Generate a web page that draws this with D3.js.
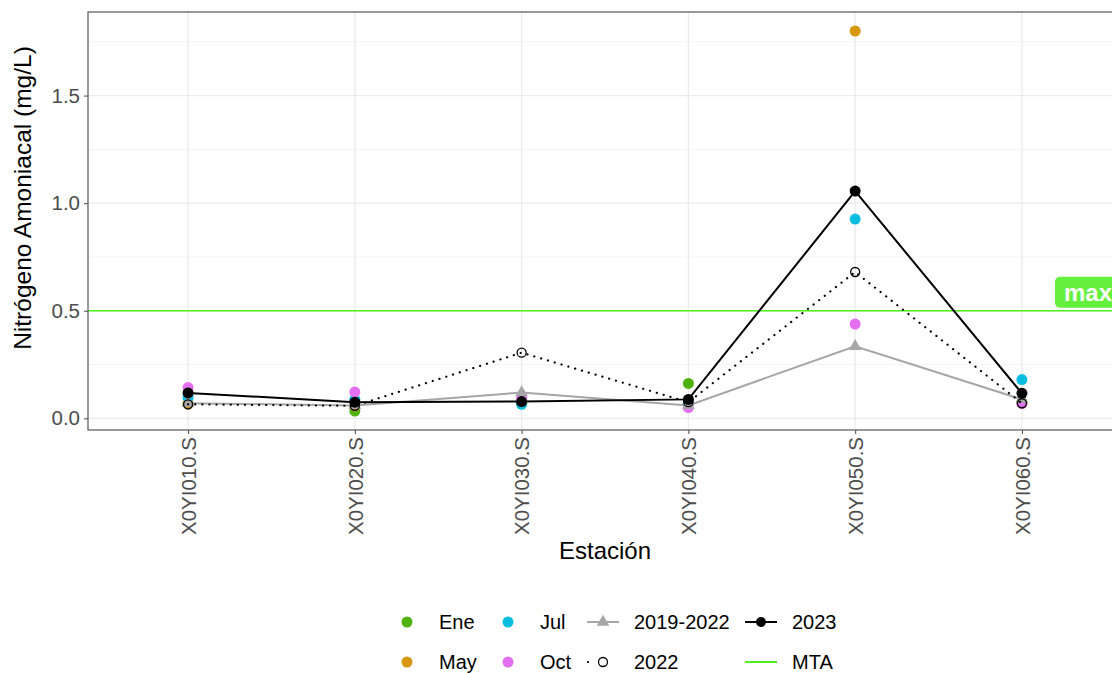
<!DOCTYPE html>
<html>
<head>
<meta charset="utf-8">
<script src="https://cdn.jsdelivr.net/npm/d3@7"></script>
<style>
  body { margin: 0; background: #fff; }
  svg { display: block; font-family: "Liberation Sans", Arial, sans-serif; }
</style>
</head>
<body>
<svg id="chart" width="1112" height="673"></svg>
<script>
// Stations sampled along the river
const stations = ["X0YI010.S", "X0YI020.S", "X0YI030.S", "X0YI040.S", "X0YI050.S", "X0YI060.S"];

// Monthly 2023 samples (mg/L)
const ene = [0.068, 0.034, 0.07, 0.162, null, 0.075];
const may = [0.066, 0.057, 0.07, 0.07, 1.8, 0.07];
const jul = [0.097, 0.088, 0.065, 0.07, 0.926, 0.18];
const oct = [0.143, 0.122, 0.097, 0.05, 0.438, 0.069];

// Summary series
const hist2019_2022 = [0.07, 0.06, 0.12, 0.06, 0.335, 0.088];
const year2022 = [0.065, 0.058, 0.305, 0.075, 0.68, 0.07];
const year2023 = [0.118, 0.075, 0.078, 0.088, 1.056, 0.116];

// Maximum allowed concentration (MTA)
const mta = 0.5;
const mtaLabel = "max";

const yTicks = [0, 0.5, 1.0, 1.5];
const yMinor = [0.25, 0.75, 1.25, 1.75];

const months = [
  { name: "Ene", values: ene, color: "#4fb20f" },
  { name: "May", values: may, color: "#d8960a" },
  { name: "Jul", values: jul, color: "#08bde0" },
  { name: "Oct", values: oct, color: "#e36ef0" }
];

const mtaColor = "#4cf21c";

const svg = d3.select("#chart");
const panel = { left: 88, top: 12, right: 1122, bottom: 430 };

// discrete x scale with 0.6 expansion on each side
const x = d3.scalePoint()
  .domain(stations)
  .range([panel.left, panel.right])
  .padding(0.6);

const allVals = [].concat(ene, may, jul, oct, hist2019_2022, year2022, year2023).filter(v => v != null);
const vmin = d3.min(allVals), vmax = d3.max(allVals);
const pad = (vmax - vmin) * 0.05;
const y = d3.scaleLinear()
  .domain([vmin - pad, vmax + pad])
  .range([panel.bottom, panel.top]);

svg.append("clipPath").attr("id", "panelClip")
  .append("rect")
  .attr("x", panel.left).attr("y", panel.top)
  .attr("width", panel.right - panel.left).attr("height", panel.bottom - panel.top);

const g = svg.append("g");

// grid
g.selectAll(".minor").data(yMinor).join("line")
  .attr("x1", panel.left).attr("x2", panel.right)
  .attr("y1", d => y(d)).attr("y2", d => y(d))
  .attr("stroke", "#f2f2f2").attr("stroke-width", 0.8);
g.selectAll(".major").data(yTicks).join("line")
  .attr("x1", panel.left).attr("x2", panel.right)
  .attr("y1", d => y(d)).attr("y2", d => y(d))
  .attr("stroke", "#ebebeb").attr("stroke-width", 1.3);
g.selectAll(".vgrid").data(stations).join("line")
  .attr("x1", d => x(d)).attr("x2", d => x(d))
  .attr("y1", panel.top).attr("y2", panel.bottom)
  .attr("stroke", "#ebebeb").attr("stroke-width", 1.3);

// MTA line
g.append("line")
  .attr("x1", panel.left).attr("x2", panel.right)
  .attr("y1", y(mta)).attr("y2", y(mta))
  .attr("stroke", mtaColor).attr("stroke-width", 1.6);

const data = g.append("g").attr("clip-path", "url(#panelClip)");

const lineGen = vals => d3.line()
  .defined(d => d != null)
  .x((d, i) => x(stations[i]))
  .y(d => y(d))(vals);

// monthly samples
months.forEach(m => {
  data.selectAll(null).data(m.values.map((v, i) => ({ v, s: stations[i] })).filter(d => d.v != null))
    .join("circle")
    .attr("cx", d => x(d.s)).attr("cy", d => y(d.v))
    .attr("r", 5.5).attr("fill", m.color);
});

// 2019-2022 mean
data.append("path").attr("d", lineGen(hist2019_2022))
  .attr("fill", "none").attr("stroke", "#a6a6a6").attr("stroke-width", 2);
const tri = d3.symbol().type(d3.symbolTriangle).size(70);
data.selectAll(".tri").data(hist2019_2022).join("path")
  .attr("d", tri)
  .attr("transform", (d, i) => `translate(${x(stations[i])},${y(d)})`)
  .attr("fill", "#a6a6a6");

// 2022
data.append("path").attr("d", lineGen(year2022))
  .attr("fill", "none").attr("stroke", "#000").attr("stroke-width", 2.2)
  .attr("stroke-dasharray", "0.1,7").attr("stroke-linecap", "round");
data.selectAll(".c22").data(year2022).join("circle")
  .attr("cx", (d, i) => x(stations[i])).attr("cy", d => y(d))
  .attr("r", 4.5).attr("fill", "none").attr("stroke", "#000").attr("stroke-width", 1.3);

// 2023
data.append("path").attr("d", lineGen(year2023))
  .attr("fill", "none").attr("stroke", "#000").attr("stroke-width", 2);
data.selectAll(".c23").data(year2023).join("circle")
  .attr("cx", (d, i) => x(stations[i])).attr("cy", d => y(d))
  .attr("r", 5.5).attr("fill", "#000");

// MTA label
const lab = g.append("g").attr("transform", `translate(1055, ${y(mta) - 34})`);
lab.append("rect").attr("x", 0).attr("y", 0).attr("width", 90).attr("height", 31)
  .attr("rx", 5).attr("fill", "#66f03e");
lab.append("text").attr("x", 9).attr("y", 24)
  .attr("fill", "#fff").attr("font-weight", "bold").attr("font-size", 24)
  .text(mtaLabel);

// panel border
g.append("rect")
  .attr("x", panel.left).attr("y", panel.top)
  .attr("width", panel.right - panel.left).attr("height", panel.bottom - panel.top)
  .attr("fill", "none").attr("stroke", "#555").attr("stroke-width", 1.2);

// axes
const tickFont = 20.5;
const yAxis = d3.axisLeft(y).tickValues(yTicks).tickFormat(d3.format(".1f")).tickSize(4).tickPadding(4);
const ya = svg.append("g").attr("transform", `translate(${panel.left},0)`).call(yAxis);
ya.select(".domain").remove();
ya.selectAll(".tick line").attr("stroke", "#555").attr("stroke-width", 1.1);
ya.selectAll(".tick text").attr("fill", "#4d4d4d").attr("font-size", tickFont)
  .attr("font-family", "Liberation Sans, Arial, sans-serif");

const xAxis = d3.axisBottom(x).tickSize(4).tickPadding(3);
const xa = svg.append("g").attr("transform", `translate(0,${panel.bottom})`).call(xAxis);
xa.select(".domain").remove();
xa.selectAll(".tick line").attr("stroke", "#555").attr("stroke-width", 1.1);
xa.selectAll(".tick text")
  .attr("fill", "#4d4d4d").attr("font-size", tickFont)
  .attr("font-family", "Liberation Sans, Arial, sans-serif")
  .attr("transform", "rotate(-90)")
  .attr("text-anchor", "end")
  .attr("x", -7).attr("y", 0).attr("dy", "0.35em");

// axis titles
svg.append("text").attr("x", (panel.left + panel.right) / 2).attr("y", 559)
  .attr("text-anchor", "middle").attr("font-size", 24).text("Estación");
svg.append("text")
  .attr("transform", `translate(31, 198) rotate(-90)`)
  .attr("text-anchor", "middle").attr("font-size", 24.5).text("Nitrógeno Amoniacal (mg/L)");

// legend
const leg = svg.append("g").attr("font-size", 20);
const row = [622, 662];
const monthPos = [[407, row[0]], [407, row[1]], [508, row[0]], [508, row[1]]];
months.forEach((m, i) => {
  const [lx, ly] = monthPos[i];
  leg.append("circle").attr("cx", lx).attr("cy", ly).attr("r", 5.5).attr("fill", m.color);
  leg.append("text").attr("x", lx + 32).attr("y", ly + 7).text(m.name);
});
// 2019-2022
leg.append("line").attr("x1", 587).attr("x2", 619).attr("y1", row[0]).attr("y2", row[0])
  .attr("stroke", "#a6a6a6").attr("stroke-width", 2);
leg.append("path").attr("d", tri).attr("transform", `translate(603,${row[0]})`).attr("fill", "#a6a6a6");
leg.append("text").attr("x", 634).attr("y", row[0] + 7).text("2019-2022");
// 2022
leg.append("line").attr("x1", 588).attr("x2", 619).attr("y1", row[1]).attr("y2", row[1])
  .attr("stroke", "#000").attr("stroke-width", 2.2)
  .attr("stroke-dasharray", "0.1,15.5").attr("stroke-linecap", "round");
leg.append("circle").attr("cx", 603).attr("cy", row[1]).attr("r", 4.5)
  .attr("fill", "#fff").attr("stroke", "#000").attr("stroke-width", 1.3);
leg.append("text").attr("x", 634).attr("y", row[1] + 7).text("2022");
// 2023
leg.append("line").attr("x1", 745).attr("x2", 777).attr("y1", row[0]).attr("y2", row[0])
  .attr("stroke", "#000").attr("stroke-width", 2);
leg.append("circle").attr("cx", 761).attr("cy", row[0]).attr("r", 5).attr("fill", "#000");
leg.append("text").attr("x", 792).attr("y", row[0] + 7).text("2023");
// MTA
leg.append("line").attr("x1", 745).attr("x2", 777).attr("y1", row[1]).attr("y2", row[1])
  .attr("stroke", mtaColor).attr("stroke-width", 2);
leg.append("text").attr("x", 792).attr("y", row[1] + 7).text("MTA");
</script>
</body>
</html>
